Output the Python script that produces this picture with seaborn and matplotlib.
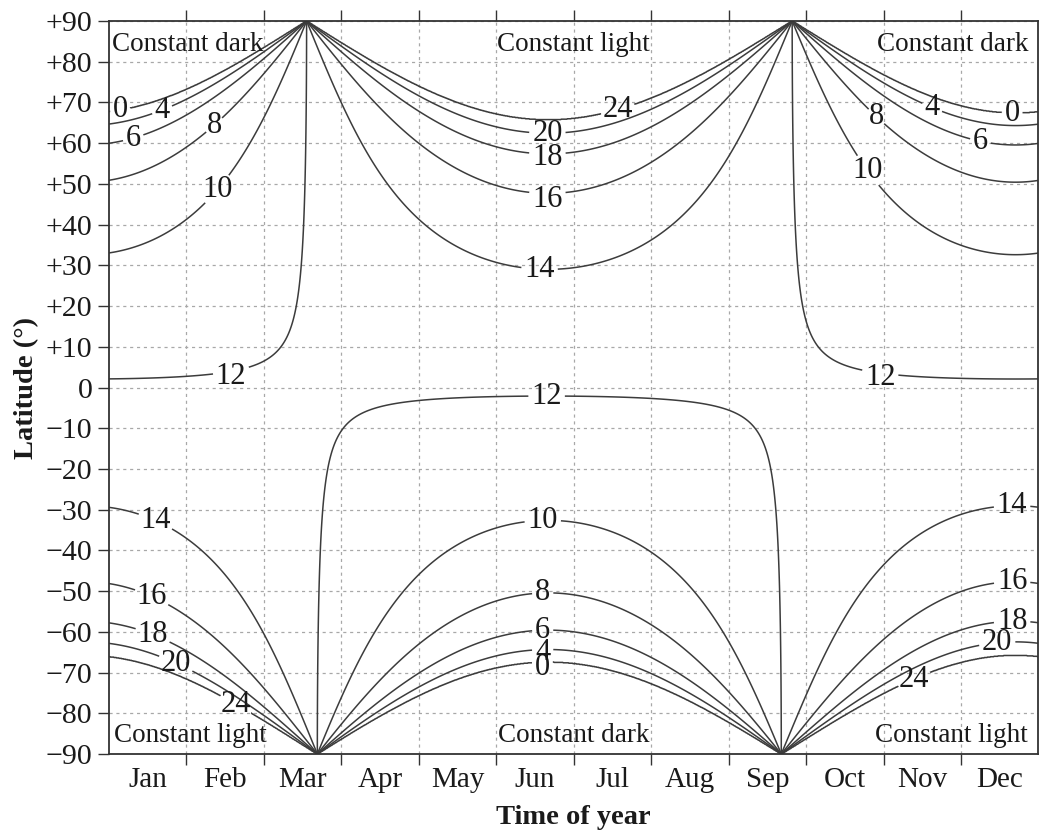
import numpy as np
import matplotlib
matplotlib.use("Agg")
import matplotlib.pyplot as plt
import seaborn as sns

# axis categories / ticks
months = ["Jan", "Feb", "Mar", "Apr", "May", "Jun",
          "Jul", "Aug", "Sep", "Oct", "Nov", "Dec"]
lat_ticks = list(range(-90, 91, 10))
lat_labels = ["+%d" % v if v > 0 else ("0" if v == 0 else "\u2212%d" % -v) for v in lat_ticks]

# hours of daylight shown as contours
levels = [0, 4, 6, 8, 10, 12, 14, 16, 18, 20, 24]

# day length model (CBM, Forsythe et al. 1995)
sin_tilt = 0.39795
horizon_deg = 0.8333   # refraction + half sun disk

days = np.linspace(0, 365, 1826)
lats = np.linspace(-90, 90, 1801)
D, L = np.meshgrid(days, lats)
theta = 0.2163108 + 2 * np.arctan(0.9671396 * np.tan(0.00860 * (D + 0.5 - 186)))
phi = np.arcsin(sin_tilt * np.cos(theta))
with np.errstate(divide="ignore", invalid="ignore"):
    arg = (np.sin(np.radians(horizon_deg)) + np.sin(np.radians(L)) * np.sin(phi)) / \
          (np.cos(np.radians(L)) * np.cos(phi))
daylen = 24 - 24 / np.pi * np.arccos(np.clip(arg, -1, 1))
X = D * 12 / 365   # month units

# where the inline labels go (x in months, y in degrees)
label_spots = {
    0:  [(0.14, 69.5), (5.6, -68.6), (11.66, 68.3)],
    4:  [(0.70, 67.5), (5.6, -65.0), (10.6, 67.5)],
    6:  [(0.31, 61.5), (5.6, -60.0), (11.24, 59.5)],
    8:  [(1.38, 64.0), (5.6, -50.7), (9.85, 65.4)],
    10: [(1.41, 48.5), (5.6, -32.5), (9.77, 52.9)],
    12: [(1.59, 2.5), (5.65, -2.1), (9.95, 2.5)],
    14: [(0.59, -33.3), (5.56, 29.6), (11.66, -29.4)],
    16: [(0.53, -52.4), (5.66, 47.0), (11.66, -47.3)],
    18: [(0.55, -61.5), (5.66, 56.8), (11.66, -57.1)],
    20: [(0.86, -67.9), (5.66, 63.0), (11.47, -63.2)],
    24: [(1.61, -78.7), (6.55, 69.0), (10.46, -73.6)],
}
# small downward shifts of some labels off their line (degrees)
label_nudge = {(0, 1): 1.3, (4, 1): 0.6, (16, 1): 1.4, (18, 1): 1.0,
               (12, 0): 1.2, (12, 2): 1.0}

notes = [
    ("Constant dark", 0.003, 0.985, "left", "top"),
    ("Constant light", 0.5, 0.985, "center", "top"),
    ("Constant dark", 0.989, 0.985, "right", "top"),
    ("Constant light", 0.005, 0.008, "left", "bottom"),
    ("Constant dark", 0.5, 0.008, "center", "bottom"),
    ("Constant light", 0.989, 0.008, "right", "bottom"),
]

sns.set_style("ticks")
plt.rcParams["font.family"] = ["Liberation Serif", "DejaVu Serif"]

fig = plt.figure(figsize=(10.4, 8.38), dpi=100)
ax = fig.add_axes([0.1048, 0.1002, 0.8937, 0.8747])

line_col = "#3c3c3c"
txt_col = "#1a1a1a"
for lv in levels:
    dl = min(max(lv, 0.001), 23.999)
    cs = ax.contour(X, L, daylen, levels=[dl], colors=line_col, linewidths=1.1)
    labs = cs.clabel(manual=label_spots[lv], inline=True, inline_spacing=3,
                     fmt={dl: str(lv)}, fontsize=22, colors=txt_col)
    for i, t in enumerate(labs):
        t.set_rotation(0)
        dy = label_nudge.get((lv, i), 0)
        if dy:
            x0, y0 = t.get_position()
            t.set_position((x0, y0 - dy))

for txt, x, y, ha, va in notes:
    ax.text(x, y, txt, transform=ax.transAxes, ha=ha, va=va, fontsize=19.5, color=txt_col)

ax.set_xlim(0, 12)
ax.set_ylim(-90, 90)
ax.set_xticks(range(1, 12))
ax.set_xticklabels([])
ax.set_xticks([i + 0.5 for i in range(12)], minor=True)
ax.set_xticklabels(months, minor=True, fontsize=21, color=txt_col)
ax.tick_params(axis="x", which="minor", length=0, pad=9)
ax.tick_params(axis="x", which="major", direction="out", length=8, width=1, top=True, color="#333333")
ax.set_yticks(lat_ticks)
ax.set_yticklabels(lat_labels, fontsize=21.5, color=txt_col)
ax.tick_params(axis="y", direction="out", length=8, width=1, color="#333333", pad=4)

ax.grid(True, which="major", color="#a8a8a8", linestyle=(0, (2.5, 3)), linewidth=0.9)
for s in ax.spines.values():
    s.set_visible(True)
    s.set_color("#333333")
    s.set_linewidth(1.3)

ax.set_xlabel("Time of year", fontsize=20.5, fontweight="bold", color=txt_col, labelpad=9)
ax.set_ylabel("Latitude (\u00b0)", fontsize=20.5, fontweight="bold", color=txt_col, labelpad=5)

fig.savefig("out.png", dpi=100)
